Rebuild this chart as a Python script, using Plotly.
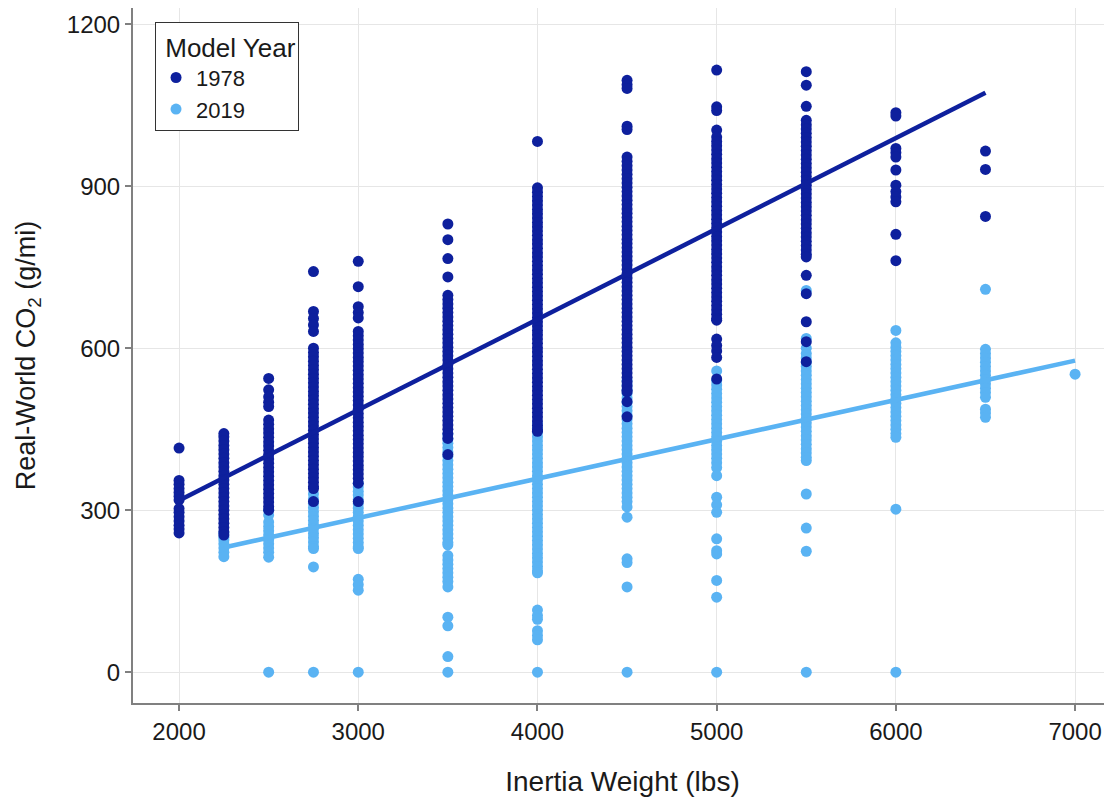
import plotly.graph_objects as go

# ---------------- data ----------------
# Model year 1978: real-world CO2 (g/mi) by inertia weight class (lbs)
y78_2000 = [415, 355, 348, 340, 333, 326, 319, 303, 296, 288, 280, 272, 265, 258]
y78_2250 = [442, 436, 428, 420, 412, 404, 396, 388, 380, 372, 364, 356, 348, 340, 332,
            324, 316, 308, 300, 292, 284, 276, 268, 260, 254]
y78_2500 = [544, 523, 510, 500, 492, 467, 459, 451, 443, 435, 427, 419, 411, 403, 395,
            387, 379, 371, 363, 355, 347, 339, 331, 323, 315, 307, 300]
y78_2750 = [742, 668, 655, 643, 631, 600, 592, 584, 576, 568, 560, 552, 544, 536, 528,
            520, 512, 504, 496, 488, 480, 472, 464, 456, 448, 440, 432, 424, 416, 408,
            400, 392, 384, 376, 368, 360, 352, 344, 340, 316]
y78_3000 = [761, 714, 677, 666, 656, 631, 623, 615, 607, 599, 591, 583, 575, 567, 559,
            551, 543, 535, 527, 519, 511, 503, 495, 487, 479, 471, 463, 455, 447, 439,
            431, 423, 415, 407, 399, 391, 383, 375, 367, 359, 350, 316]
y78_3500 = [830, 801, 766, 732, 698, 690, 682, 674, 666, 658, 650, 642, 634, 626, 618,
            610, 602, 594, 586, 578, 570, 562, 554, 546, 538, 530, 522, 514, 506, 498,
            490, 482, 474, 466, 458, 450, 442, 433, 403]
y78_4000 = [983, 897, 889, 881, 873, 865, 857, 849, 841, 833, 825, 817, 809, 801, 793,
            785, 777, 769, 761, 753, 745, 737, 729, 721, 713, 705, 697, 689, 681, 673,
            665, 657, 649, 641, 633, 625, 617, 609, 601, 593, 585, 577, 569, 561, 553,
            545, 537, 529, 521, 513, 505, 497, 489, 481, 473, 465, 457, 449, 446]
y78_4500 = [1096, 1088, 1081, 1011, 1005, 954, 946, 938, 930, 922, 914, 906, 898, 890,
            882, 874, 866, 858, 850, 842, 834, 826, 818, 810, 802, 794, 786, 778, 770,
            762, 754, 746, 738, 730, 722, 714, 706, 698, 690, 682, 674, 666, 658, 650,
            642, 634, 626, 618, 610, 602, 594, 586, 578, 570, 562, 554, 546, 538, 530,
            522, 519, 501, 473]
y78_5000 = [1115, 1047, 1040, 1004, 991, 983, 975, 967, 959, 951, 943, 935, 927, 919,
            911, 903, 895, 887, 879, 871, 863, 855, 847, 839, 831, 823, 815, 807, 799,
            791, 783, 775, 767, 759, 751, 743, 735, 727, 719, 711, 703, 695, 687, 679,
            671, 663, 655, 652, 617, 605, 595, 583, 543]
y78_5500 = [1112, 1087, 1048, 1022, 1014, 1006, 998, 990, 982, 974, 966, 958, 950, 942,
            934, 926, 918, 910, 902, 894, 886, 878, 870, 862, 854, 846, 838, 830, 822,
            814, 806, 798, 790, 782, 774, 769, 735, 701, 649, 612, 575]
y78_6000 = [1036, 1030, 970, 962, 954, 930, 902, 890, 880, 871, 811, 762]
y78_6500 = [965, 931, 844]

# Model year 2019
y19_2250 = [258, 250, 245, 238, 230, 222, 214]
y19_2500 = [300, 291, 278, 270, 262, 254, 246, 238, 230, 222, 213, 0]
y19_2750 = [330, 321, 313, 305, 297, 289, 281, 273, 265, 257, 249, 241, 233, 229, 195, 0]
y19_3000 = [350, 343, 335, 328, 320, 312, 304, 296, 288, 280, 272, 264, 256, 248, 240,
            232, 229, 172, 162, 152, 0]
y19_3500 = [440, 432, 424, 416, 408, 400, 392, 384, 376, 368, 360, 352, 344, 336, 328,
            320, 312, 304, 296, 288, 280, 272, 264, 256, 248, 240, 236, 216, 208, 200,
            192, 184, 176, 168, 158, 102, 86, 29, 0]
y19_4000 = [460, 452, 444, 436, 428, 420, 412, 404, 396, 388, 380, 372, 364, 356, 348,
            340, 332, 324, 316, 308, 300, 292, 284, 276, 268, 260, 252, 244, 236, 228,
            220, 212, 204, 196, 188, 184, 115, 105, 98, 77, 68, 60, 0]
y19_4500 = [540, 532, 524, 516, 508, 500, 492, 484, 476, 468, 460, 452, 444, 436, 428,
            420, 412, 404, 396, 388, 380, 372, 364, 356, 348, 340, 332, 324, 316, 306,
            287, 210, 203, 158, 0]
y19_5000 = [558, 540, 532, 524, 516, 508, 500, 492, 484, 476, 468, 460, 452, 444, 436,
            428, 420, 412, 404, 396, 388, 379, 364, 324, 310, 296, 247, 225, 219, 170,
            139, 0]
y19_5500 = [707, 618, 600, 590, 582, 574, 566, 558, 550, 542, 534, 526, 518, 510, 502,
            494, 486, 478, 470, 462, 454, 446, 438, 430, 422, 414, 406, 398, 392, 330,
            267, 224, 0]
y19_6000 = [633, 610, 602, 594, 586, 578, 570, 562, 554, 546, 538, 530, 522, 514, 506,
            498, 490, 482, 474, 466, 458, 450, 442, 435, 302, 0]
y19_6500 = [709, 598, 590, 582, 574, 566, 558, 550, 542, 534, 526, 518, 509, 487, 480, 472]
y19_7000 = [552]

weights_1978 = [2000, 2250, 2500, 2750, 3000, 3500, 4000, 4500, 5000, 5500, 6000, 6500]
values_1978 = [y78_2000, y78_2250, y78_2500, y78_2750, y78_3000, y78_3500, y78_4000,
               y78_4500, y78_5000, y78_5500, y78_6000, y78_6500]
weights_2019 = [2250, 2500, 2750, 3000, 3500, 4000, 4500, 5000, 5500, 6000, 6500, 7000]
values_2019 = [y19_2250, y19_2500, y19_2750, y19_3000, y19_3500, y19_4000, y19_4500,
               y19_5000, y19_5500, y19_6000, y19_6500, y19_7000]

# fitted trend lines (endpoints)
fit_x_1978 = [2000, 6500]
fit_y_1978 = [318, 1073]
fit_x_2019 = [2250, 7000]
fit_y_2019 = [231, 577]

x_ticks = [2000, 3000, 4000, 5000, 6000, 7000]
y_ticks = [0, 300, 600, 900, 1200]

DARK = "#0E209D"
LIGHT = "#5AB3F3"
FONT = "Arial, Liberation Sans, sans-serif"
TXT = "#1a1a1a"


def flatten(weights, values):
    xs, ys = [], []
    for w, vals in zip(weights, values):
        for v in vals:
            xs.append(w)
            ys.append(v)
    return xs, ys


x78, v78 = flatten(weights_1978, values_1978)
x19, v19 = flatten(weights_2019, values_2019)

fig = go.Figure()
fig.add_trace(go.Scatter(x=x19, y=v19, mode="markers", name="2019", legendrank=2,
                         marker=dict(color=LIGHT, size=11, line=dict(width=0))))
fig.add_trace(go.Scatter(x=x78, y=v78, mode="markers", name="1978", legendrank=1,
                         marker=dict(color=DARK, size=11, line=dict(width=0))))
fig.add_trace(go.Scatter(x=fit_x_2019, y=fit_y_2019, mode="lines", showlegend=False,
                         line=dict(color=LIGHT, width=4.5), hoverinfo="skip"))
fig.add_trace(go.Scatter(x=fit_x_1978, y=fit_y_1978, mode="lines", showlegend=False,
                         line=dict(color=DARK, width=4.5), hoverinfo="skip"))

axis_common = dict(
    showgrid=True, gridcolor="#E6E6E6", gridwidth=1,
    showline=True, linecolor="#808080", linewidth=2,
    ticks="outside", ticklen=6, tickwidth=2, tickcolor="#808080",
    tickfont=dict(family=FONT, size=24, color=TXT),
    zeroline=False, automargin=False,
)

# the page body adds an 8px offset, so margins are trimmed accordingly
fig.update_layout(
    width=1104, height=789,
    margin=dict(l=125, r=0, t=0, b=94),
    paper_bgcolor="white", plot_bgcolor="white",
    font=dict(family=FONT, size=24, color=TXT),
    xaxis=dict(range=[1743, 7206], tickvals=x_ticks, mirror=True,
               title=dict(text="Inertia Weight (lbs)", standoff=31,
                          font=dict(family=FONT, size=28, color=TXT)),
               **axis_common),
    yaxis=dict(range=[-57, 1230], tickvals=y_ticks,
               title=dict(text="Real-World CO<sub>2</sub> (g/mi)", standoff=23,
                          font=dict(family=FONT, size=27, color=TXT)),
               **axis_common),
    legend=dict(
        title=dict(text="\u00a0Model Year", font=dict(family=FONT, size=26, color=TXT)),
        x=0.0225, y=0.98, xanchor="left", yanchor="top",
        bgcolor="white", bordercolor="#333333", borderwidth=1,
        font=dict(family=FONT, size=22, color=TXT),
        itemsizing="trace", tracegroupgap=0,
        entrywidth=116, entrywidthmode="pixels",
    ),
    showlegend=True,
)

fig.write_html("out.html")
